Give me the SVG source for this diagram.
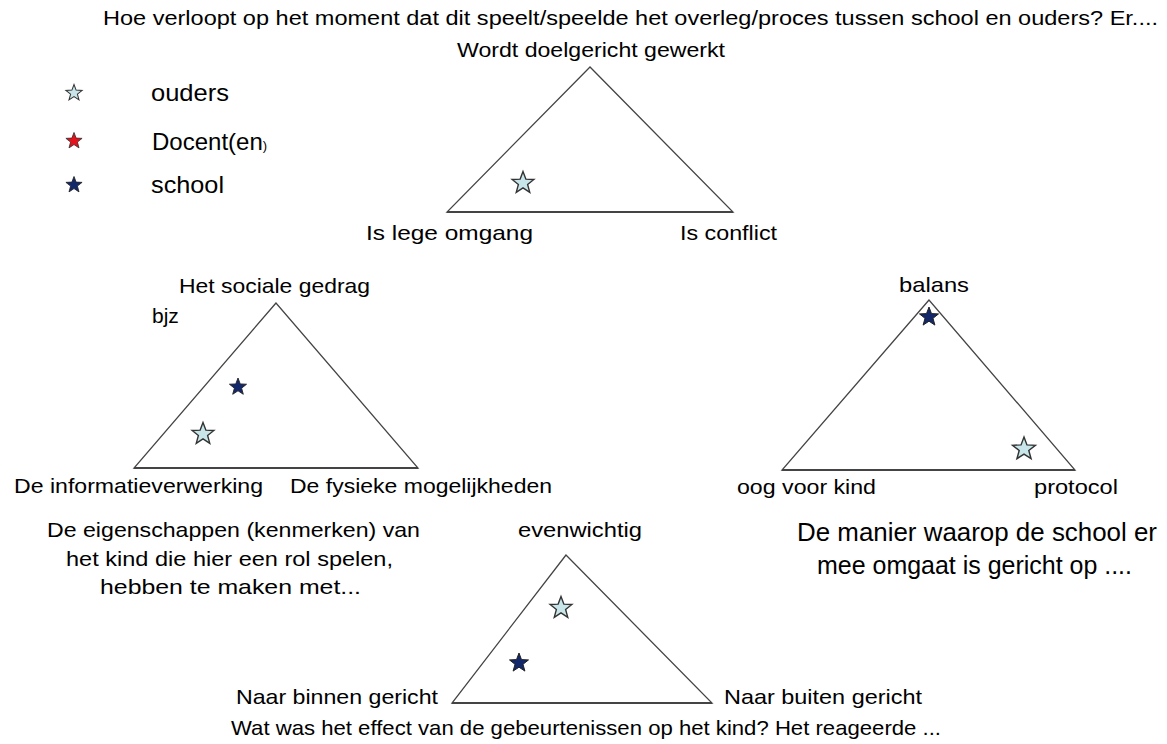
<svg xmlns="http://www.w3.org/2000/svg" width="1167" height="744" viewBox="0 0 1167 744">
<style>
text{font-family:"Liberation Sans",Arial,sans-serif;fill:#000;}
.t{font-size:21px;}
.l{font-size:24px;}
.b{font-size:25px;}
.tri{fill:none;stroke:#444;stroke-width:1.3;}
.base{stroke:#444;stroke-width:2.2;}
.ou{fill:#c8e6ea;stroke:#333;stroke-width:1.2;}
.doc{fill:#e8101a;stroke:#333;stroke-width:1;}
.sch{fill:#13276b;stroke:#222;stroke-width:1;}
</style>
<defs>
<path id="star" d="M0,-10 L2.47,-3.4 L9.51,-3.09 L4,1.3 L5.88,8.09 L0,4.2 L-5.88,8.09 L-4,1.3 L-9.51,-3.09 L-2.47,-3.4 Z"/>
</defs>
<rect width="1167" height="744" fill="#fff"/>
<text id="title" x="103" y="25" font-size="20" textLength="1055" lengthAdjust="spacingAndGlyphs">Hoe verloopt op het moment dat dit speelt/speelde het overleg/proces tussen school en ouders? Er....</text>
<g id="legend">
<use href="#star" class="ou" transform="translate(74,93) scale(0.85)"/>
<use href="#star" class="doc" transform="translate(74,141) scale(0.85)"/>
<use href="#star" class="sch" transform="translate(74,185) scale(0.85)"/>
<text class="l" x="151" y="101" textLength="78" lengthAdjust="spacingAndGlyphs">ouders</text>
<text class="l" x="152" y="150">Docent(en<tspan font-size="13">)</tspan></text>
<text class="l" x="151" y="193" textLength="73" lengthAdjust="spacingAndGlyphs">school</text>
</g>
<g id="triangle-overleg">
<polygon class="tri" points="590,67 447,212 733,212"/>
<line class="base" x1="447" y1="212" x2="733" y2="212"/>
<use href="#star" class="ou" transform="translate(523,183) scale(1.15)"/>
<text class="t" x="457" y="57" textLength="268" lengthAdjust="spacingAndGlyphs">Wordt doelgericht gewerkt</text>
<text class="t" x="366" y="240" textLength="167" lengthAdjust="spacingAndGlyphs">Is lege omgang</text>
<text class="t" x="680" y="240" textLength="97" lengthAdjust="spacingAndGlyphs">Is conflict</text>
</g>
<g id="triangle-kenmerken">
<polygon class="tri" points="276,303 134,468 418,468"/>
<line class="base" x1="134" y1="468" x2="418" y2="468"/>
<use href="#star" class="sch" transform="translate(238,387) scale(0.9)"/>
<use href="#star" class="ou" transform="translate(203,434) scale(1.15)"/>
<text class="t" x="179" y="293" textLength="191" lengthAdjust="spacingAndGlyphs">Het sociale gedrag</text>
<text class="t" x="152" y="323">bjz</text>
<text class="t" x="14" y="493" textLength="249" lengthAdjust="spacingAndGlyphs">De informatieverwerking</text>
<text class="t" x="290" y="493" textLength="262" lengthAdjust="spacingAndGlyphs">De fysieke mogelijkheden</text>
<text class="t" x="47" y="537" textLength="373" lengthAdjust="spacingAndGlyphs">De eigenschappen (kenmerken) van</text>
<text class="t" x="66" y="566" textLength="327" lengthAdjust="spacingAndGlyphs">het kind die hier een rol spelen,</text>
<text class="t" x="100" y="594" textLength="261" lengthAdjust="spacingAndGlyphs">hebben te maken met...</text>
</g>
<g id="triangle-school">
<polygon class="tri" points="929,300 782,470 1075,470"/>
<line class="base" x1="782" y1="470" x2="1075" y2="470"/>
<use href="#star" class="sch" transform="translate(929,317) scale(1)"/>
<use href="#star" class="ou" transform="translate(1024,449) scale(1.2)"/>
<text class="t" x="899" y="292" textLength="70" lengthAdjust="spacingAndGlyphs">balans</text>
<text class="t" x="737" y="494" textLength="139" lengthAdjust="spacingAndGlyphs">oog voor kind</text>
<text class="t" x="1034" y="494" textLength="84" lengthAdjust="spacingAndGlyphs">protocol</text>
<text class="b" x="797" y="541" textLength="360" lengthAdjust="spacingAndGlyphs">De manier waarop de school er</text>
<text class="b" x="817" y="574" textLength="315" lengthAdjust="spacingAndGlyphs">mee omgaat is gericht op ....</text>
</g>
<g id="triangle-effect">
<polygon class="tri" points="566,555 452,703 712,703"/>
<line class="base" x1="452" y1="703" x2="712" y2="703"/>
<use href="#star" class="ou" transform="translate(561,608) scale(1.15)"/>
<use href="#star" class="sch" transform="translate(519,663) scale(1)"/>
<text class="t" x="518" y="537" textLength="124" lengthAdjust="spacingAndGlyphs">evenwichtig</text>
<text class="t" x="236" y="704" textLength="202" lengthAdjust="spacingAndGlyphs">Naar binnen gericht</text>
<text class="t" x="724" y="704" textLength="198" lengthAdjust="spacingAndGlyphs">Naar buiten gericht</text>
<text class="t" x="231" y="735" textLength="710" lengthAdjust="spacingAndGlyphs">Wat was het effect van de gebeurtenissen op het kind? Het reageerde ...</text>
</g>
</svg>
